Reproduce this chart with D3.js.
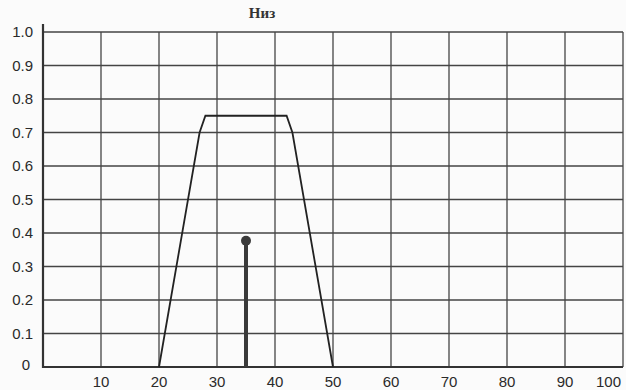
<!DOCTYPE html>
<html><head><meta charset="utf-8">
<script src="https://cdn.jsdelivr.net/npm/d3@7"></script>
<style>body{margin:0;background:#fbfbfb}svg{display:block}</style>
</head><body>
<svg id="c" width="626" height="390"></svg>
<script>
const title = "Низ";
const xTicks = [10,20,30,40,50,60,70,80,90,100];
const yTicks = [0,0.1,0.2,0.3,0.4,0.5,0.6,0.7,0.8,0.9,1.0];
const memberX = [20,27,28,42,43,50];
const memberY = [0,0.7,0.75,0.75,0.7,0];
const inputX = 35;
const inputY = 0.377;

const svg = d3.select("#c");
const x = d3.scaleLinear().domain([0,100]).range([43,623]);
const y = d3.scaleLinear().domain([0,1]).range([367,32]);
const grid = "#444";

// grid
svg.append("g").selectAll("line").data(xTicks).join("line")
  .attr("x1",d=>x(d)).attr("x2",d=>x(d)).attr("y1",y(0)).attr("y2",y(1))
  .attr("stroke",grid).attr("stroke-width",1.3);
svg.append("g").selectAll("line").data(yTicks.filter(d=>d>0)).join("line")
  .attr("x1",x(0)).attr("x2",x(100)).attr("y1",d=>y(d)).attr("y2",d=>y(d))
  .attr("stroke",grid).attr("stroke-width",1.3);

// axes lines
svg.append("line").attr("x1",x(0)).attr("x2",x(0)).attr("y1",24).attr("y2",y(0)+1)
  .attr("stroke","#333").attr("stroke-width",2.2);
svg.append("line").attr("x1",x(0)-1).attr("x2",x(100)).attr("y1",y(0)).attr("y2",y(0))
  .attr("stroke","#333").attr("stroke-width",2.2);

// labels
svg.append("g").selectAll("text").data(yTicks).join("text")
  .attr("x",d=> d===0 ? 30 : 33).attr("y",d=>y(d)+ (d===0?3:5)).attr("text-anchor","end")
  .attr("font-family","Liberation Sans, Arial, sans-serif").attr("font-size",15).attr("fill","#2a2a2a")
  .text(d=> d===0 ? "0" : d.toFixed(1));
svg.append("g").selectAll("text").data(xTicks).join("text")
  .attr("x",d=> d===100 ? 621 : x(d)).attr("y",387)
  .attr("text-anchor",d=> d===100 ? "end" : "middle")
  .attr("font-family","Liberation Sans, Arial, sans-serif").attr("font-size",15).attr("fill","#2a2a2a")
  .text(d=>d);

// title
svg.append("text").attr("x",262).attr("y",18).attr("text-anchor","middle")
  .attr("font-family","Liberation Serif, Times New Roman, serif").attr("font-size",15)
  .attr("font-weight","bold").attr("fill","#333").text(title);

// membership function
const pts = memberX.map((v,i)=>[v,memberY[i]]);
svg.append("path").datum(pts)
  .attr("d",d3.line().x(d=>x(d[0])).y(d=>y(d[1])))
  .attr("fill","none").attr("stroke","#222").attr("stroke-width",1.8);

// input spike
svg.append("line").attr("x1",x(inputX)).attr("x2",x(inputX)).attr("y1",y(0)).attr("y2",y(inputY))
  .attr("stroke","#3a3a3a").attr("stroke-width",4);
svg.append("circle").attr("cx",x(inputX)).attr("cy",y(inputY)).attr("r",5)
  .attr("fill","#3a3a3a");
</script>
</body></html>
